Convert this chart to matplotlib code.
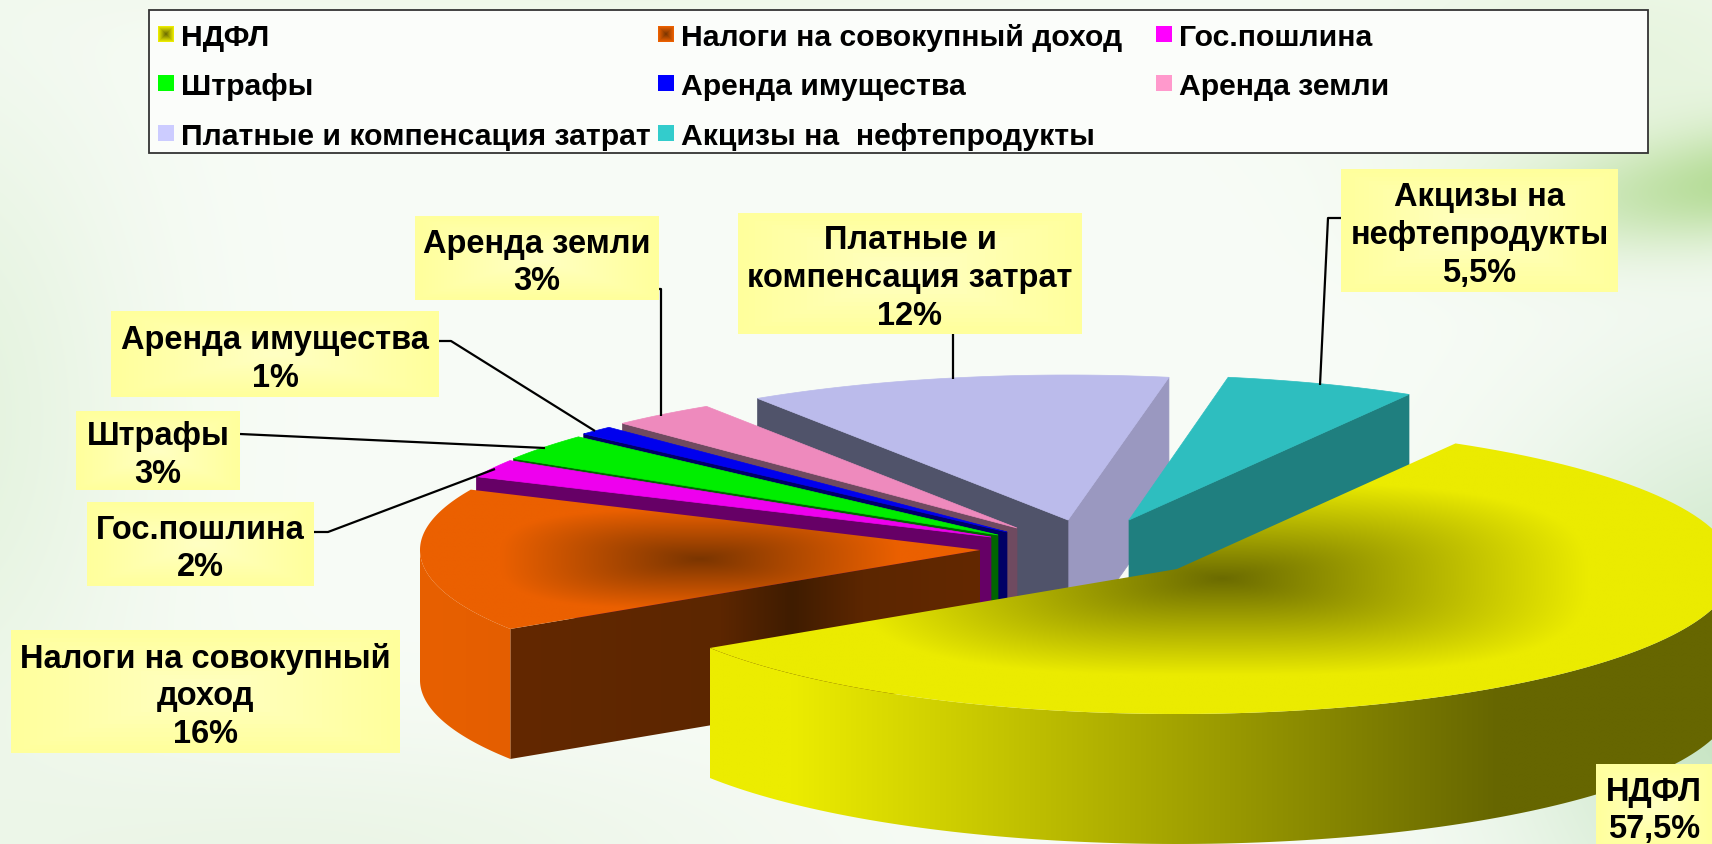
import numpy as np
import matplotlib
matplotlib.use("Agg")
import matplotlib.pyplot as plt
from matplotlib.colors import to_rgb
from matplotlib.patches import Polygon, Rectangle

plt.rcParams['font.family'] = ['Liberation Sans', 'DejaVu Sans']

# data
names = ["НДФЛ", "Налоги на совокупный доход", "Гос.пошлина", "Штрафы",
         "Аренда имущества", "Аренда земли", "Платные и компенсация затрат",
         "Акцизы на  нефтепродукты"]
values = [57.5, 16, 2, 3, 1, 3, 12, 5.5]
value_text = ["57,5%", "16%", "2%", "3%", "1%", "3%", "12%", "5,5%"]
label_lines = [["НДФЛ"], ["Налоги на совокупный", "доход"], ["Гос.пошлина"], ["Штрафы"],
               ["Аренда имущества"], ["Аренда земли"], ["Платные и", "компенсация затрат"],
               ["Акцизы на", "нефтепродукты"]]

# slice styling and layout, all in image pixels
top_col = ["#ebeb00", "#eb6000", "#ee00ee", "#00ee00", "#0000ee", "#ee8abd", "#bbbbeb", "#2ebebf"]
top_mid = ["#6b6b00", "#7a3500", None, None, None, None, None, None]
legend_col = ["#ebeb00", "#eb6000", "#ff00ff", "#00ff00", "#0000ff", "#ff99cc", "#ccccff", "#33cccc"]
wall_a1 = [None, ([0, 0.45, 0.6, 0.75, 1], ["#632800", "#5c2600", "#3f1c00", "#5c2600", "#632800"]),
           "#660066", "#006600", "#000066", "#6f4a60", "#50536a", None]
wall_a2 = [None, None, None, None, None, None, "#9a98c0", "#1f7f7f"]
arc_col = [([0, 0.08, 0.77, 1], ["#ecec00", "#ecec00", "#666600", "#666600"]),
           ([0, 1], ["#e86000", "#e45e00"]), "#660066", "#006600", "#000066", "#6f4a60", "#50536a", "#1f7f7f"]
apex = [(1177, 570), (980, 551), (991, 538), (998, 536), (1007, 533), (1017, 529), (1068, 521), (1129, 521)]
rad_x = [557, 560, 566, 570, 575, 570, 570, 560]
rad_y = 145
depth = 130
start_angle = 60

label_box = [(1596, 765, 1712, 850), (11, 631, 400, 754), (87, 503, 314, 587), (76, 412, 240, 491),
             (111, 313, 439, 398), (415, 217, 659, 301), (738, 214, 1082, 335), (1341, 170, 1618, 293)]
leaders = [None, None,
           [(314, 533), (328, 533), (495, 470)],
           [(240, 435), (545, 449)],
           [(439, 342), (451, 342), (595, 432)],
           [(659, 290), (661, 290), (661, 417)],
           [(953, 335), (953, 380)],
           [(1341, 219), (1328, 219), (1320, 386)]]

legend_x = [158, 658, 1156]
legend_y = [35, 84, 134]

W, H = 1712, 845
fig = plt.figure(figsize=(W / 100, H / 100), dpi=100)
ax = fig.add_axes([0, 0, 1, 1])
ax.set_axis_off()


def paint(poly_pts, colours, mode):
    # flat colour, or gradient clipped to the polygon
    pts = np.array(poly_pts)
    if isinstance(colours, str):
        ax.add_patch(Polygon(pts, closed=True, fc=colours, ec=colours, lw=0.5, zorder=2))
        return
    stops, cols = colours
    rgb = np.array([to_rgb(c) for c in cols])
    x0, y0 = pts.min(axis=0)
    x1, y1 = pts.max(axis=0)
    xs, ys = np.meshgrid(np.linspace(x0, x1, 500), np.linspace(y0, y1, 250))
    if mode == "centre":
        u = np.abs(xs - (x0 + x1) / 2) / ((x1 - x0) / 2)
        v = np.abs(ys - (y0 + y1) / 2) / ((y1 - y0) / 2)
        t = np.clip(1.4 * (u ** 3 + v ** 3) ** (1 / 3), 0, 1)
    else:
        t = (xs - x0) / (x1 - x0)
    img = np.dstack([np.interp(t, stops, rgb[:, k]) for k in range(3)])
    im = ax.imshow(img, extent=(x0, x1, y1, y0), aspect='auto', zorder=2, interpolation='bilinear')
    im.set_clip_path(Polygon(pts, closed=True, transform=ax.transData))


def rim(i, a_from, a_to, n=120):
    t = np.radians(np.linspace(a_from, a_to, n))
    return np.c_[apex[i][0] + rad_x[i] * np.cos(t), apex[i][1] - rad_y * np.sin(t)]


# background
yy, xx = np.mgrid[0:H, 0:W]
bg = np.ones((H, W, 3)) * np.array(to_rgb("#f8fcf7"))
glows = [(1760, 175, 210, 60, -0.12, "#a9d685", 1.0),
         (1760, 700, 240, 280, 0, "#b5dcb0", 0.75),
         (-60, 420, 200, 360, 0, "#dcefd4", 0.7),
         (300, 860, 500, 130, 0, "#e3f1dc", 0.6),
         (600, -30, 500, 60, 0, "#e4f3d8", 0.6),
         (1620, 60, 260, 130, 0, "#ddf0d0", 0.6)]
for gx, gy, sx, sy, tilt, col, amp in glows:
    dx = xx - gx
    dy = yy - gy - tilt * dx
    w = amp * np.exp(-(dx / sx) ** 2 - (dy / sy) ** 2)
    bg = bg * (1 - w[..., None]) + np.array(to_rgb(col)) * w[..., None]
ax.imshow(bg, extent=(0, W, H, 0), aspect='auto', zorder=0)

# pie, back to front
sweep = np.array(values) / sum(values) * 360
ends = start_angle - np.cumsum(sweep)
starts = ends + sweep
for i in [6, 7, 5, 4, 3, 2, 1, 0]:
    a1, a2 = starts[i], ends[i]
    top = rim(i, a1, a2)
    ap = np.array(apex[i], dtype=float)
    down = np.array([0, depth])
    for ang, cols, normal in ((a2, wall_a2[i], a2 - 90), (a1, wall_a1[i], a1 + 90)):
        if cols is None or np.sin(np.radians(normal)) >= 0:
            continue
        edge = rim(i, ang, ang, 1)[0]
        paint([ap, edge, edge + down, ap + down], cols, "x")
    # only the front part of the rim shows
    seg = np.linspace(a1, a2, 400)
    front = seg[np.sin(np.radians(seg)) < 0]
    if len(front):
        r = rim(i, front[0], front[-1])
        paint(np.vstack([r, (r + down)[::-1]]), arc_col[i], "x")
    poly = np.vstack([ap, top])
    if top_mid[i]:
        paint(poly, ([0, 1], [top_mid[i], top_col[i]]), "centre")
    else:
        paint(poly, top_col[i], None)

# legend
ax.add_patch(Rectangle((149.5, 10.5), 1499, 143.5, fc="#fbfdfa", ec="#333333", lw=1.3, zorder=5))
for n, i in enumerate(range(len(names))):
    mx, my = legend_x[n % 3], legend_y[n // 3]
    if top_mid[i]:
        gr = np.abs(np.linspace(-1, 1, 16))
        t = np.maximum(gr[None, :], gr[:, None])
        rgb_a, rgb_b = np.array(to_rgb(top_mid[i])), np.array(to_rgb(legend_col[i]))
        ax.imshow(rgb_a + (rgb_b - rgb_a) * t[..., None], extent=(mx, mx + 16, my + 8, my - 8),
                  aspect='auto', zorder=6, interpolation='nearest')
    else:
        ax.add_patch(Rectangle((mx, my - 8), 16, 16, fc=legend_col[i], ec="none", zorder=6))
    ax.text(mx + 23, my + 3, names[i], fontsize=21.7, fontweight='bold', va='center', ha='left',
            color='black', zorder=6)

# leader lines
for line in leaders:
    if line:
        p = np.array(line)
        ax.plot(p[:, 0], p[:, 1], color='black', lw=1.6, zorder=7, solid_capstyle='butt')

# data labels
for i, (x0, y0, x1, y1) in enumerate(label_box):
    gr_x = np.abs(np.linspace(-1, 1, 60))
    gr_y = np.abs(np.linspace(-1, 1, 30))
    t = np.maximum(gr_x[None, :], gr_y[:, None])
    rgb_a, rgb_b = np.array(to_rgb("#ffffc4")), np.array(to_rgb("#ffff9c"))
    ax.imshow(rgb_a + (rgb_b - rgb_a) * t[..., None], extent=(x0, x1, y1, y0), aspect='auto', zorder=8)
    lines = label_lines[i] + [value_text[i]]
    ax.text((x0 + x1) / 2, min((y0 + y1) / 2 + 4, 811), "\n".join(lines), fontsize=23.5, fontweight='bold',
            ha='center', va='center', linespacing=1.29, color='black', zorder=9)

ax.set_xlim(0, W)
ax.set_ylim(H, 0)
fig.savefig("out.png", dpi=100)
